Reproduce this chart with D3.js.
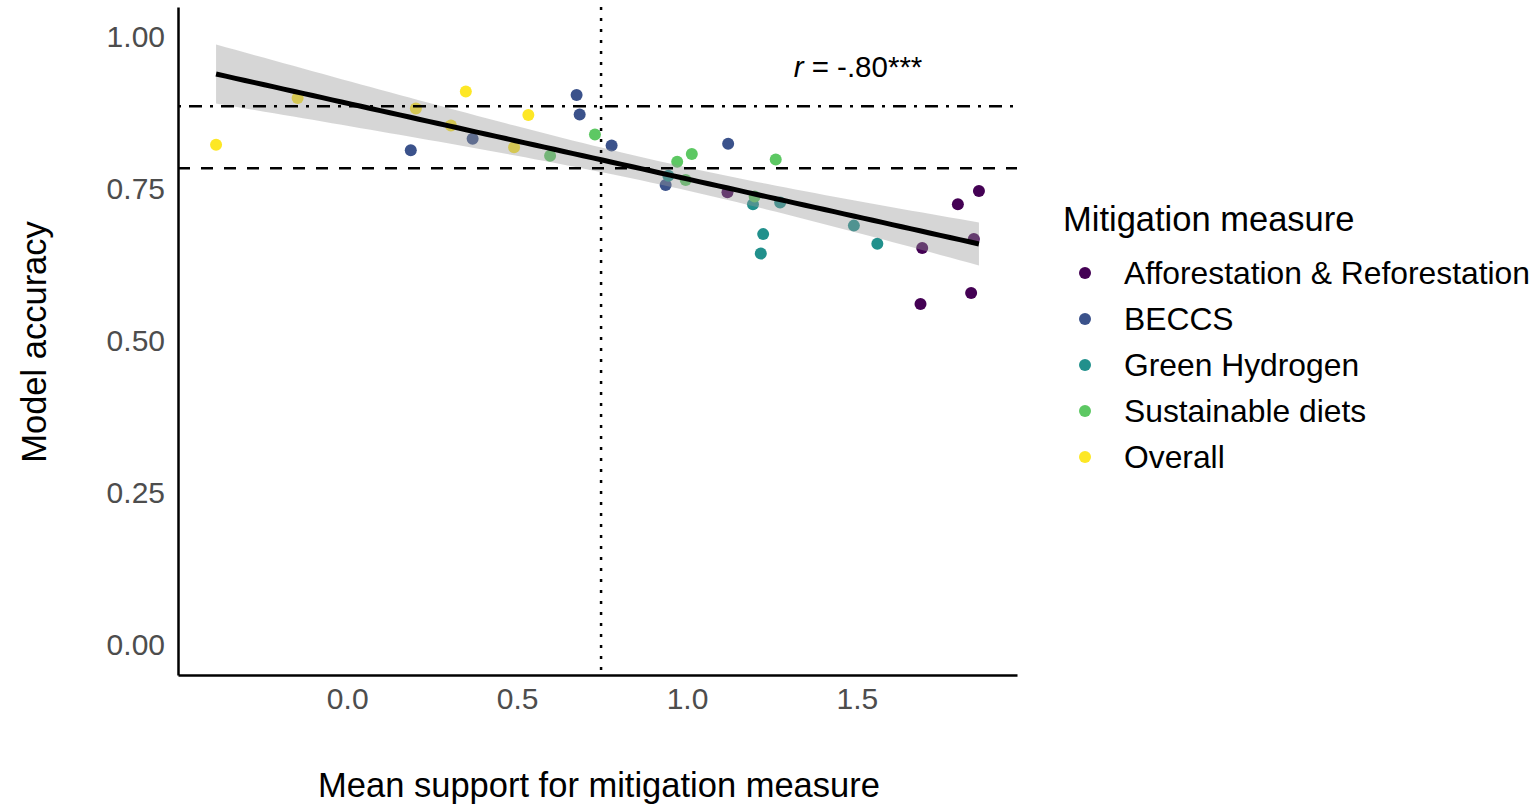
<!DOCTYPE html>
<html>
<head>
<meta charset="utf-8">
<script src="https://cdn.jsdelivr.net/npm/d3@7"></script>
<style>
  body { margin: 0; background: #fff; }
  text { font-family: "Liberation Sans", Arial, sans-serif; }
</style>
</head>
<body>
<script>
// data
var categories = ["Afforestation & Reforestation", "BECCS", "Green Hydrogen", "Sustainable diets", "Overall"];
var colors = ["#440154", "#3B528B", "#21908C", "#5DC863", "#FDE725"];

var afforX = [1.119, 1.692, 1.687, 1.797, 1.859, 1.844, 1.836];
var afforY = [0.745, 0.653, 0.561, 0.725, 0.747, 0.668, 0.579];
var beccsX = [0.187, 0.369, 0.675, 0.684, 0.778, 1.121, 0.937];
var beccsY = [0.814, 0.833, 0.905, 0.873, 0.822, 0.825, 0.757];
var hydroX = [0.945, 1.194, 1.274, 1.224, 1.217, 1.491, 1.560];
var hydroY = [0.772, 0.725, 0.728, 0.676, 0.644, 0.690, 0.660];
var dietsX = [0.729, 0.597, 0.971, 1.014, 0.996, 1.199, 1.261];
var dietsY = [0.840, 0.805, 0.795, 0.808, 0.765, 0.738, 0.799];
var overX = [-0.386, -0.146, 0.202, 0.305, 0.349, 0.533, 0.491];
var overY = [0.823, 0.900, 0.883, 0.855, 0.911, 0.872, 0.819];

var xTicks = [0, 0.5, 1, 1.5];
var yTicks = [0, 0.25, 0.5, 0.75, 1];
var hDotDash = 0.8865, hDashed = 0.7845, vDotted = 0.747;
var rLabel = "-.80***";

var groups = [
  [afforX, afforY], [beccsX, beccsY], [hydroX, hydroY], [dietsX, dietsY], [overX, overY]
];
var points = [];
groups.forEach(function(g, i) {
  g[0].forEach(function(x, j) {
    points.push({x: x, y: g[1][j], cat: categories[i]});
  });
});

var width = 1540, height = 807;
var svg = d3.select("body").append("svg")
    .attr("width", width)
    .attr("height", height);

var x = d3.scaleLinear().domain([-0.498, 1.971]).range([178, 1017]);
var y = d3.scaleLinear().domain([-0.05, 1.05]).range([675, 7]);
var color = d3.scaleOrdinal().domain(categories).range(colors);

// points first, ribbon on top (like geom_smooth)
svg.append("g")
  .selectAll("circle")
  .data(points)
  .enter().append("circle")
    .attr("cx", function(d) { return x(d.x); })
    .attr("cy", function(d) { return y(d.y); })
    .attr("r", 6)
    .attr("fill", function(d) { return color(d.cat); });

// linear fit + 95% CI
var n = points.length;
var mx = d3.mean(points, function(d) { return d.x; });
var my = d3.mean(points, function(d) { return d.y; });
var sxx = d3.sum(points, function(d) { return (d.x - mx) * (d.x - mx); });
var sxy = d3.sum(points, function(d) { return (d.x - mx) * (d.y - my); });
var slope = sxy / sxx, icpt = my - slope * mx;
var sse = d3.sum(points, function(d) { var e = d.y - (icpt + slope * d.x); return e * e; });
var s = Math.sqrt(sse / (n - 2));
var tq = 2.0345;
var xmin = d3.min(points, function(d) { return d.x; });
var xmax = d3.max(points, function(d) { return d.x; });
var fit = d3.range(80).map(function(i) {
  var xv = xmin + (xmax - xmin) * i / 79;
  var yv = icpt + slope * xv;
  var se = s * Math.sqrt(1 / n + (xv - mx) * (xv - mx) / sxx);
  return {x: xv, y: yv, lo: yv - tq * se, hi: yv + tq * se};
});

svg.append("path")
    .datum(fit)
    .attr("fill", "#999999")
    .attr("fill-opacity", 0.4)
    .attr("d", d3.area()
      .x(function(d) { return x(d.x); })
      .y0(function(d) { return y(d.lo); })
      .y1(function(d) { return y(d.hi); }));

svg.append("path")
    .datum(fit)
    .attr("fill", "none")
    .attr("stroke", "black")
    .attr("stroke-width", 5)
    .attr("d", d3.line()
      .x(function(d) { return x(d.x); })
      .y(function(d) { return y(d.y); }));

// reference lines
svg.append("line")
    .attr("x1", 178).attr("x2", 1017)
    .attr("y1", y(hDotDash)).attr("y2", y(hDotDash))
    .attr("stroke", "black").attr("stroke-width", 2.5)
    .attr("stroke-dasharray", "3,8,13,8");
svg.append("line")
    .attr("x1", 178).attr("x2", 1017)
    .attr("y1", y(hDashed)).attr("y2", y(hDashed))
    .attr("stroke", "black").attr("stroke-width", 2.5)
    .attr("stroke-dasharray", "12,11");
svg.append("line")
    .attr("x1", x(vDotted)).attr("x2", x(vDotted))
    .attr("y1", 7).attr("y2", 675)
    .attr("stroke", "black").attr("stroke-width", 2.5)
    .attr("stroke-dasharray", "3,8");

// axes
var xAxis = svg.append("g")
    .attr("transform", "translate(0,675)")
    .call(d3.axisBottom(x).tickValues(xTicks).tickFormat(d3.format(".1f")).tickSize(0).tickPadding(13));
var yAxis = svg.append("g")
    .attr("transform", "translate(178,0)")
    .call(d3.axisLeft(y).tickValues(yTicks).tickFormat(d3.format(".2f")).tickSize(0).tickPadding(13));
[xAxis, yAxis].forEach(function(a) {
  a.select(".domain").attr("stroke", "black").attr("stroke-width", 2.5);
  a.selectAll("text").attr("fill", "#4D4D4D").style("font-size", "30px")
    .style("font-family", "'Liberation Sans', Arial, sans-serif");
});
xAxis.selectAll("text").attr("dy", "0.71em");

// axis titles
svg.append("text")
    .attr("x", 599).attr("y", 797)
    .attr("text-anchor", "middle")
    .style("font-size", "34.5px")
    .text("Mean support for mitigation measure");
svg.append("text")
    .attr("transform", "translate(46,342) rotate(-90)")
    .attr("text-anchor", "middle")
    .style("font-size", "34.5px")
    .text("Model accuracy");

// r annotation
var ann = svg.append("text")
    .attr("x", 858).attr("y", 77)
    .attr("text-anchor", "middle")
    .style("font-size", "29.5px");
ann.append("tspan").style("font-style", "italic").text("r");
ann.append("tspan").text(" = " + rLabel);

// legend
var lg = svg.append("g").attr("transform", "translate(1063,0)");
lg.append("text")
    .attr("x", 0).attr("y", 231)
    .style("font-size", "34.5px")
    .text("Mitigation measure");
var item = lg.selectAll(".item")
    .data(categories)
    .enter().append("g")
    .attr("class", "item")
    .attr("transform", function(d, i) { return "translate(0," + (273 + i * 46) + ")"; });
item.append("circle")
    .attr("cx", 22).attr("cy", 0).attr("r", 6)
    .attr("fill", function(d) { return color(d); });
item.append("text")
    .attr("x", 61).attr("y", 0).attr("dy", "0.36em")
    .style("font-size", "31.8px")
    .text(function(d) { return d; });
</script>
</body>
</html>
